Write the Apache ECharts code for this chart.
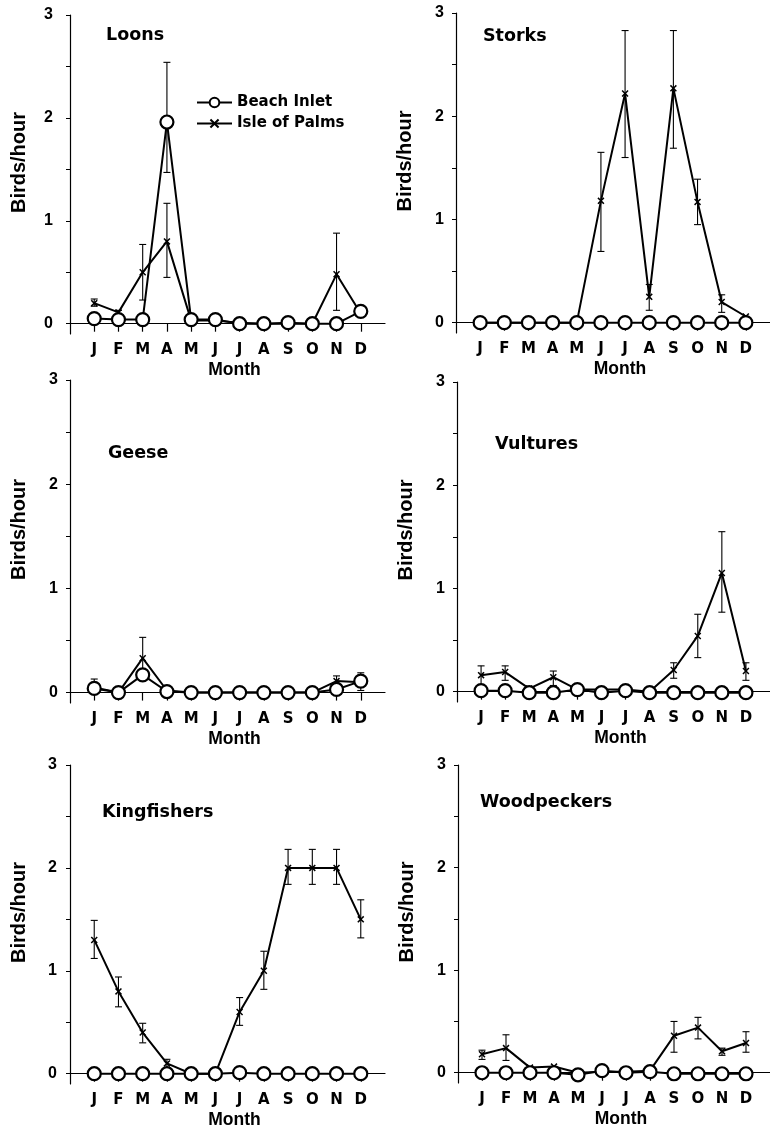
<!DOCTYPE html>
<html>
<head>
<meta charset="utf-8">
<script src="https://cdn.jsdelivr.net/npm/echarts@6/dist/echarts.min.js"></script>
<style>
html,body{margin:0;padding:0;background:#fff;}
#chart{width:770px;height:1129px;}
</style>
</head>
<body>
<div id="chart"></div>
<script>
// ---- data ----
const months = ['J','F','M','A','M','J','J','A','S','O','N','D'];
const species = ['Loons','Storks','Geese','Vultures','Kingfishers','Woodpeckers'];
const seriesNames = ['Beach Inlet','Isle of Palms'];
const yTickLabels = [0,1,2,3];
const yTickMarks = [0,0.5,1,1.5,2,2.5,3];

// Beach Inlet (circles)
const beachLoons       = [0.05,0.04,0.04,1.96,0.04,0.04,0.00,0.00,0.01,0.00,0.00,0.12];
const beachStorks      = [0,0,0,0,0,0,0,0,0,0,0,0];
const beachGeese       = [0.04,0.00,0.17,0.01,0.00,0.00,0.00,0.00,0.00,0.00,0.03,0.11];
const beachVultures    = [0.01,0.01,-0.01,-0.01,0.02,-0.01,0.01,-0.01,-0.01,-0.01,-0.01,-0.01];
const beachKingfishers = [0,0,0,0,0,0,0.01,0,0,0,0,0];
const beachWoodpeckers = [0,0,0,0,-0.02,0.02,0,0.01,-0.01,-0.01,-0.01,-0.01];

// Beach Inlet error bars (low / high)
const beachLoonsLo = [null,null,null,1.47,null,null,null,null,null,null,null,null];
const beachLoonsHi = [null,null,null,2.54,null,null,null,null,null,null,null,null];

// Isle of Palms (x marks)
const isleLoons       = [0.20,0.11,0.50,0.80,0.03,0.03,0.01,0.00,0.00,0.00,0.48,0.10];
const isleStorks      = [0,0,0,0,0,1.18,2.22,0.25,2.27,1.17,0.20,0.06];
const isleGeese       = [0.05,0.00,0.33,0.02,0.00,0.00,0.00,0.00,0.00,0.00,0.11,0.10];
const isleVultures    = [0.16,0.19,0.03,0.14,0.02,0.02,0.02,0.00,0.21,0.54,1.15,0.20];
const isleKingfishers = [1.30,0.80,0.40,0.10,0.00,0.00,0.60,1.00,2.00,2.00,2.00,1.50];
const isleWoodpeckers = [0.18,0.24,0.05,0.06,0.00,0.01,0.01,0.02,0.36,0.44,0.21,0.29];

// Isle of Palms error bars (low / high)
const isleLoonsLo = [0.17,0.09,0.23,0.45,null,null,null,null,null,null,0.13,null];
const isleLoonsHi = [0.24,0.13,0.77,1.17,null,null,null,null,null,null,0.88,null];
const isleStorksLo = [null,null,null,null,null,0.69,1.60,0.12,1.69,0.95,0.10,null];
const isleStorksHi = [null,null,null,null,null,1.65,2.83,0.37,2.83,1.39,0.27,null];
const isleGeeseLo = [0.00,null,0.13,null,null,null,null,null,null,null,0.05,0.02];
const isleGeeseHi = [0.13,null,0.53,null,null,null,null,null,null,null,0.16,0.19];
const isleVulturesLo = [0.07,0.11,null,0.06,null,null,null,null,0.13,0.33,0.77,0.11];
const isleVulturesHi = [0.25,0.25,null,0.20,null,null,null,null,0.28,0.75,1.55,0.28];
const isleKingfishersLo = [1.12,0.65,0.30,0.05,null,null,0.47,0.82,1.84,1.84,1.84,1.32];
const isleKingfishersHi = [1.49,0.94,0.49,0.14,null,null,0.74,1.19,2.18,2.18,2.18,1.69];
const isleWoodpeckersLo = [0.13,0.12,null,null,null,null,null,null,0.20,0.33,0.17,0.20];
const isleWoodpeckersHi = [0.22,0.37,null,null,null,null,null,null,0.50,0.54,0.24,0.40];

const beachData = [beachLoons,beachStorks,beachGeese,beachVultures,beachKingfishers,beachWoodpeckers];
const beachLo = [beachLoonsLo,null,null,null,null,null];
const beachHi = [beachLoonsHi,null,null,null,null,null];
const isleData = [isleLoons,isleStorks,isleGeese,isleVultures,isleKingfishers,isleWoodpeckers];
const isleLo = [isleLoonsLo,isleStorksLo,isleGeeseLo,isleVulturesLo,isleKingfishersLo,isleWoodpeckersLo];
const isleHi = [isleLoonsHi,isleStorksHi,isleGeeseHi,isleVulturesHi,isleKingfishersHi,isleWoodpeckersHi];

// ---- layout ----
const grids = [
  {left:70,  top:15,  width:315, height:319},
  {left:456, top:13,  width:314, height:320},
  {left:70,  top:380, width:315, height:323},
  {left:457, top:382, width:313, height:320},
  {left:70,  top:765, width:315, height:319},
  {left:458, top:765, width:312, height:318}
];
const titlePos = [
  {left:106, top:26},
  {left:483, top:27},
  {left:108, top:444},
  {left:495, top:435},
  {left:102, top:803},
  {left:480, top:793}
];
const yLabelMargin = [17,12,12,12,13,12];

const xMark = 'path://M0,1.5 L1.5,0 L5,3.5 L8.5,0 L10,1.5 L6.5,5 L10,8.5 L8.5,10 L5,6.5 L1.5,10 L0,8.5 L3.5,5 Z';

function toPairs(arr){ return arr.map((v,i)=>[i+1,v]); }
function toErr(lo,hi){
  const out=[];
  if(!lo) return out;
  for(let i=0;i<lo.length;i++){ if(lo[i]!==null && hi[i]!==null) out.push([i+1,lo[i],hi[i]]); }
  return out;
}
function renderErr(params, api){
  const x=api.value(0), lo=api.value(1), hi=api.value(2);
  const p1=api.coord([x,lo]), p2=api.coord([x,hi]);
  const w=3.5, st={stroke:'#000',lineWidth:1.1};
  return {type:'group',children:[
    {type:'line',shape:{x1:p1[0],y1:p1[1],x2:p2[0],y2:p2[1]},style:st},
    {type:'line',shape:{x1:p1[0]-w,y1:p1[1],x2:p1[0]+w,y2:p1[1]},style:st},
    {type:'line',shape:{x1:p2[0]-w,y1:p2[1],x2:p2[0]+w,y2:p2[1]},style:st}
  ]};
}

const option = {
  animation:false,
  backgroundColor:'#fff',
  title: species.map((s,i)=>({text:s,left:titlePos[i].left,top:titlePos[i].top,padding:0,
    textStyle:{fontFamily:'DejaVu Sans',fontWeight:'bold',fontSize:17.5,color:'#000'}})),
  legend:{
    data:seriesNames, left:196, top:95, orient:'vertical', itemWidth:35, itemHeight:12, itemGap:6,
    padding:0,
    textStyle:{fontFamily:'DejaVu Sans',fontWeight:'bold',fontSize:15,color:'#000'}
  },
  grid: grids.map(g=>Object.assign({outerBoundsMode:'none'},g)),
  xAxis: grids.map((g,i)=>({
    type:'value', gridIndex:i, min:0, max:13,
    name:'Month', nameLocation:'middle', nameGap:27, nameMoveOverlap:false,
    nameTextStyle:{fontFamily:'Liberation Sans',fontWeight:'bold',fontSize:17.5,color:'#000',padding:[0,0,0,14]},
    axisLine:{show:true,onZero:true,lineStyle:{color:'#000',width:1.2}},
    axisTick:{show:true,length:8,customValues:[1,2,3,4,5,6,7,8,9,10,11,12],lineStyle:{color:'#000',width:1.2}},
    axisLabel:{show:true,margin:9,customValues:[1,2,3,4,5,6,7,8,9,10,11,12],
      formatter:(v)=>months[Math.round(v)-1]||'',
      fontFamily:'DejaVu Sans',fontWeight:'bold',fontSize:15,color:'#000'},
    splitLine:{show:false}
  })),
  yAxis: grids.map((g,i)=>({
    type:'value', gridIndex:i, min:-0.1, max:3,
    name:'Birds/hour', nameLocation:'middle', nameGap:41, nameRotate:90, nameMoveOverlap:false,
    nameTextStyle:{fontFamily:'Liberation Sans',fontWeight:'bold',fontSize:20,color:'#000',padding:[0,0,0,24]},
    axisLine:{show:true,onZero:false,lineStyle:{color:'#000',width:1.2}},
    axisTick:{show:true,length:4,customValues:yTickMarks,lineStyle:{color:'#000',width:1}},
    axisLabel:{show:true,margin:yLabelMargin[i],customValues:yTickLabels,
      fontFamily:'Liberation Sans',fontWeight:'bold',fontSize:16,color:'#000'},
    splitLine:{show:false}
  })),
  series: []
};

for(let i=0;i<6;i++){
  option.series.push({
    type:'custom', name:'errIsle'+i, xAxisIndex:i, yAxisIndex:i, z:1,
    renderItem:renderErr, encode:{x:0,y:[1,2]}, data:toErr(isleLo[i],isleHi[i]), silent:true
  });
  option.series.push({
    type:'custom', name:'errBeach'+i, xAxisIndex:i, yAxisIndex:i, z:1,
    renderItem:renderErr, encode:{x:0,y:[1,2]}, data:toErr(beachLo[i],beachHi[i]), silent:true
  });
  option.series.push({
    type:'line', name:'Isle of Palms', xAxisIndex:i, yAxisIndex:i, z:2,
    data:toPairs(isleData[i]), symbol:xMark, symbolSize:7, showSymbol:true,
    itemStyle:{color:'#000'}, lineStyle:{color:'#000',width:2}
  });
  option.series.push({
    type:'line', name:'Beach Inlet', xAxisIndex:i, yAxisIndex:i, z:3,
    data:toPairs(beachData[i]), symbol:'circle', symbolSize:13, showSymbol:true,
    itemStyle:{color:'#fff',borderColor:'#000',borderWidth:2.2}, lineStyle:{color:'#000',width:2}
  });
}

const chart = echarts.init(document.getElementById('chart'), null, {renderer:'canvas'});
chart.setOption(option);
</script>
</body>
</html>
